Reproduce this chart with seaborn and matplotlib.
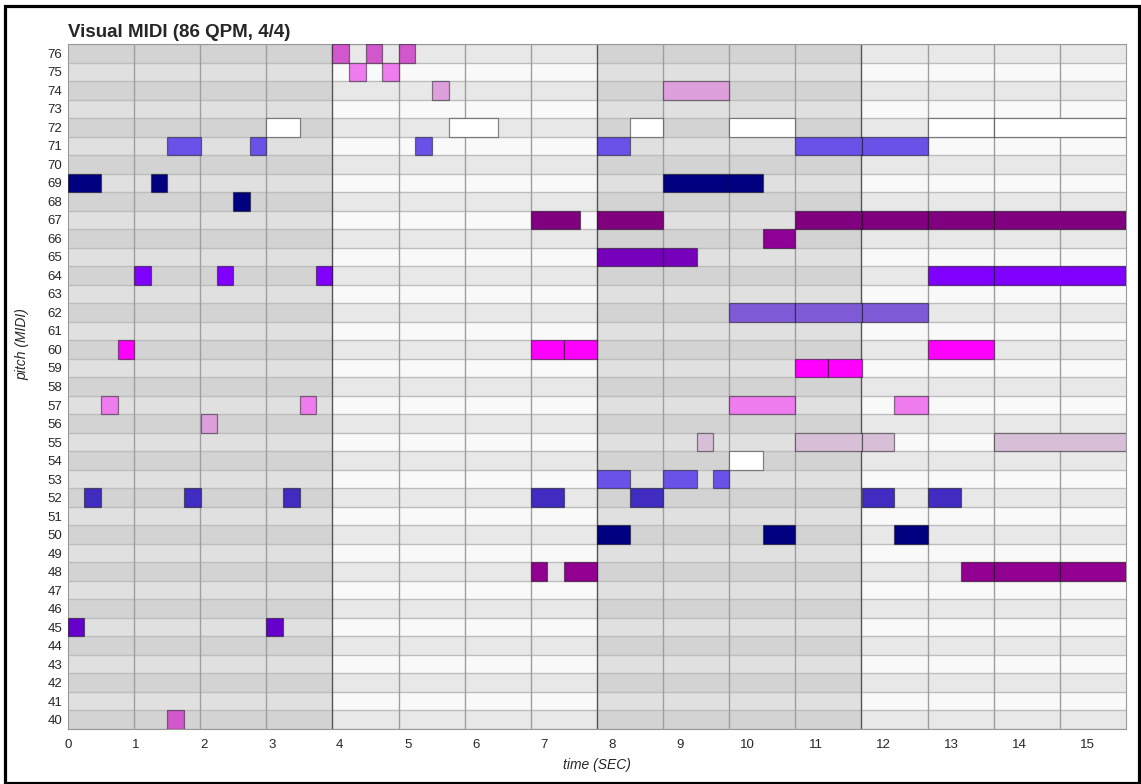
import matplotlib
matplotlib.use("Agg")
import matplotlib.pyplot as plt
import seaborn as sns
import numpy as np
from matplotlib.patches import Rectangle

sns.set_style("white")
plt.rcParams['font.family'] = ['Liberation Sans', 'DejaVu Sans']

# --- data ---
beat = 0.973          # seconds per beat (grid spacing)
n_beats = 16
pitch_range = list(range(40, 77))

# one list per note attribute (seconds / MIDI pitch / fill colour)
note_pitch = [
    76, 76, 76, 75, 75,
    74, 74,
    72, 72, 72, 72, 72, 72,
    71, 71, 71, 71, 71, 71,
    69, 69, 69, 69, 68,
    67, 67, 67, 67, 67, 67,
    66, 65, 65,
    64, 64, 64, 64, 64,
    62, 62, 62,
    60, 60, 60, 60, 59, 59,
    57, 57, 57, 57, 56,
    55, 55, 55, 55, 54,
    53, 53, 53,
    52, 52, 52, 52, 52, 52, 52,
    50, 50, 50,
    48, 48, 48, 48, 48,
    45, 45, 40,
]
note_start = [
    3.89, 4.38, 4.87, 4.14, 4.62,
    5.35, 8.76,
    2.92, 5.60, 8.27, 9.73, 12.65, 13.62,
    1.46, 2.68, 5.11, 7.78, 10.70, 11.68,
    0.00, 1.22, 8.76, 9.73, 2.43,
    6.81, 7.78, 10.70, 11.68, 12.65, 13.62,
    10.22, 7.78, 8.76,
    0.97, 2.19, 3.65, 12.65, 13.62,
    9.73, 10.70, 11.68,
    0.73, 6.81, 7.30, 12.65, 10.70, 11.19,
    0.49, 3.41, 9.73, 12.16, 1.95,
    9.25, 10.70, 11.68, 13.62, 9.73,
    7.78, 8.76, 9.49,
    0.24, 1.70, 3.16, 6.81, 8.27, 11.68, 12.65,
    7.78, 10.22, 12.16,
    6.81, 7.30, 13.14, 13.62, 14.59,
    0.00, 2.92, 1.46,
]
note_end = [
    4.14, 4.62, 5.11, 4.38, 4.87,
    5.60, 9.73,
    3.41, 6.33, 8.76, 10.70, 13.62, 15.57,
    1.95, 2.92, 5.35, 8.27, 11.68, 12.65,
    0.49, 1.46, 9.73, 10.22, 2.68,
    7.54, 8.76, 11.68, 12.65, 13.62, 15.57,
    10.70, 8.76, 9.25,
    1.22, 2.43, 3.89, 13.62, 15.57,
    10.70, 11.68, 12.65,
    0.97, 7.30, 7.78, 13.62, 11.19, 11.68,
    0.73, 3.65, 10.70, 12.65, 2.19,
    9.49, 11.68, 12.16, 15.57, 10.22,
    8.27, 9.25, 9.73,
    0.49, 1.95, 3.41, 7.30, 8.76, 12.16, 13.14,
    8.27, 10.70, 12.65,
    7.05, 7.78, 13.62, 14.59, 15.57,
    0.24, 3.16, 1.70,
]
note_color = [
    "#d257cc", "#d257cc", "#d257cc", "#ee7cee", "#ee7cee",
    "#dda0dd", "#dda0dd",
    "#ffffff", "#ffffff", "#ffffff", "#ffffff", "#ffffff", "#ffffff",
    "#6a52e8", "#6a52e8", "#6a52e8", "#6a52e8", "#6a52e8", "#6a52e8",
    "#000080", "#000080", "#000080", "#000080", "#000080",
    "#800080", "#800080", "#800080", "#800080", "#800080", "#800080",
    "#8e0096", "#7700bb", "#7700bb",
    "#8000ff", "#8000ff", "#8000ff", "#8000ff", "#8000ff",
    "#7f5ad6", "#7f5ad6", "#7f5ad6",
    "#ff00ff", "#ff00ff", "#ff00ff", "#ff00ff", "#ff00ff", "#ff00ff",
    "#ee7cee", "#ee7cee", "#ee7cee", "#ee7cee", "#dda0dd",
    "#d8bfd8", "#d8bfd8", "#d8bfd8", "#d8bfd8", "#ffffff",
    "#6a52e8", "#6a52e8", "#6a52e8",
    "#402cc0", "#402cc0", "#402cc0", "#402cc0", "#402cc0", "#402cc0", "#402cc0",
    "#000080", "#000080", "#000080",
    "#910091", "#910091", "#910091", "#910091", "#910091",
    "#6600cc", "#6600cc", "#d257cc",
]

# --- figure ---
W, H = 1141, 784
fig = plt.figure(figsize=(W / 100, H / 100), dpi=100)
ax = fig.add_axes([68 / W, (H - 729) / H, (1126 - 68) / W, (729 - 44) / H])

measure = 4 * beat
t_end = n_beats * beat

# background: alternating rows, alternating measure shades
pitches = np.array(pitch_range)
for m in range(4):
    dark = (m % 2 == 0)
    if dark:
        cols = ["#d3d3d3" if p % 2 == 0 else "#e0e0e0" for p in pitches]
    else:
        cols = ["#e8e8e8" if p % 2 == 0 else "#f9f9f9" for p in pitches]
    ax.barh(pitches, measure, left=m * measure, height=1.0, color=cols,
            linewidth=0, zorder=0)

# row separators
ax.hlines(np.arange(39.5, 77.0, 1.0), 0, t_end, color="#bdbdbd", lw=1.0, zorder=1)

# beat / measure lines
for b in range(1, n_beats):
    is_measure = (b % 4 == 0)
    ax.axvline(b * beat, color="#555555" if is_measure else "#9e9e9e",
               lw=1.0, zorder=1.5)

# notes
starts = np.array(note_start)
ends = np.array(note_end)
ax.barh(note_pitch, ends - starts, left=starts, height=1.0, color=note_color,
        edgecolor=(0, 0, 0, 0.45), linewidth=0.9, zorder=3)

ax.set_xlim(0, t_end)
ax.set_ylim(39.5, 76.5)

# y ticks: labels at row centres, long ticks at row boundaries
ax.set_yticks(pitch_range)
ax.set_yticklabels([str(p) for p in pitch_range], fontsize=9.5)
ax.set_yticks(np.arange(39.5, 77.0, 1.0), minor=True)
ax.tick_params(axis="y", which="major", length=0, pad=4.2)
ax.tick_params(axis="y", which="minor", length=20, width=0.8, color="#a8a8a8",
               direction="out")

ax.set_xticks(range(0, 16))
ax.tick_params(axis="x", which="major", length=4, width=0.8, color="#999999",
               labelsize=9.5, pad=3, direction="out")

for s in ax.spines.values():
    s.set_color("#999999")
    s.set_linewidth(0.8)

ax.set_title("Visual MIDI (86 QPM, 4/4)", loc="left", fontsize=13.5,
             fontweight="bold", pad=5)
fig.text(597 / W, 1 - 765 / H, "time (SEC)", ha="center", va="center",
         fontsize=10, style="italic")
fig.text(22 / W, 1 - 344 / H, "pitch (MIDI)", ha="center", va="center",
         fontsize=10, style="italic", rotation=90)

# black frame around the whole figure
fig.patches.append(Rectangle((4.7 / W, 1.5 / H), (1139 - 4.7) / W, (777.8 - 1.5) / H,
                             transform=fig.transFigure, fill=False,
                             edgecolor="black", linewidth=2.3, zorder=10))

fig.savefig("out.png", dpi=100)
